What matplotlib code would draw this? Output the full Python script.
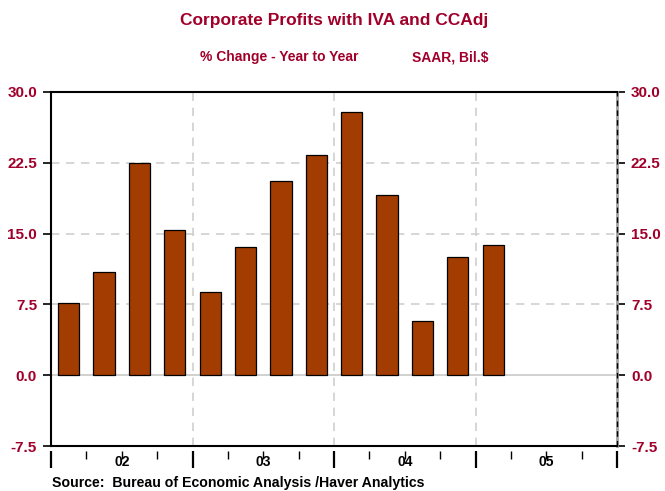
import matplotlib
matplotlib.use("Agg")
import matplotlib.pyplot as plt
from matplotlib.ticker import FixedLocator, NullFormatter

plt.rcParams['font.family'] = ['Liberation Sans', 'DejaVu Sans']

quarters = ['02Q1', '02Q2', '02Q3', '02Q4', '03Q1', '03Q2', '03Q3', '03Q4',
            '04Q1', '04Q2', '04Q3', '04Q4', '05Q1']
values = [7.7, 10.9, 22.5, 15.4, 8.8, 13.6, 20.6, 23.3, 27.9, 19.1, 5.7, 12.5, 13.8]
year_labels = ['02', '03', '04', '05']
yticks = [-7.5, 0.0, 7.5, 15.0, 22.5, 30.0]

red = '#A0002A'
bar_color = '#A33C00'

W, H = 665, 491
L, R, T, B = 51, 617, 92, 446
fig = plt.figure(figsize=(W/100, H/100), dpi=100)
ax = fig.add_axes([L/W, 1-B/H, (R-L)/W, (B-T)/H])
axh = B - T

x = list(range(len(values)))
ax.bar(x, values, width=0.6, color=bar_color, edgecolor='black', linewidth=0.9, zorder=3)

ax.set_xlim(-0.5, 15.5)
ax.set_ylim(-7.5, 30.0)

# grid
for yv in [7.5, 15.0, 22.5]:
    ax.axhline(yv, color='#D0D0D0', linestyle=(0, (5, 4)), linewidth=1.2, zorder=1)
ax.axhline(0, color='#C8C8C8', linewidth=1.2, zorder=1)
for xv in [3.5, 7.5, 11.5]:
    ax.axvline(xv, color='#D0D0D0', linestyle=(0, (5, 4)), linewidth=1.2, zorder=1)

# spines
for s in ['left', 'top', 'bottom']:
    ax.spines[s].set_color('black')
    ax.spines[s].set_linewidth(1.5)
ax.spines['right'].set_color('#A0A0A0')
ax.spines['right'].set_linewidth(2.0)
ax.axvline(15.5, color='black', linestyle=(0, (4, 3)), linewidth=1.0, zorder=4, clip_on=False)

# y ticks
ax.set_yticks(yticks)
ax.set_yticklabels([f'{v:.1f}' for v in yticks])
ax.tick_params(axis='y', which='both', left=True, right=True, labelleft=True, labelright=True,
               direction='out', length=6, width=1.2, colors='black', pad=4)
for t in ax.yaxis.get_major_ticks():
    for lab in (t.label1, t.label2):
        lab.set_color(red)
        lab.set_fontweight('bold')
        lab.set_fontsize(11)

# primary x ticks hidden
ax.tick_params(axis='x', which='both', bottom=False, labelbottom=False)

# detached x ticks via secondary axis slightly below the frame
sec = ax.secondary_xaxis(-5/axh)
sec.spines['bottom'].set_visible(False)
sec.xaxis.set_major_locator(FixedLocator([-0.5, 3.5, 7.5, 11.5, 15.5]))
sec.xaxis.set_major_formatter(NullFormatter())
sec.xaxis.set_minor_locator(FixedLocator([0.5, 1.5, 2.5, 4.5, 5.5, 6.5, 8.5, 9.5, 10.5, 12.5, 13.5, 14.5]))
sec.xaxis.set_minor_formatter(NullFormatter())
sec.tick_params(axis='x', which='major', direction='out', length=12, width=1.6, colors='black')
sec.tick_params(axis='x', which='minor', direction='out', length=6, width=1.0, colors='black')

for i, yl in enumerate(year_labels):
    ax.text(1.5 + 4*i, -15.5/axh, yl, transform=ax.get_xaxis_transform(), ha='center', va='center',
            fontsize=10, fontweight='bold', color='black')

fig.text(334/W, 1-21/H, 'Corporate Profits with IVA and CCAdj', ha='center', va='center',
         fontsize=12.5, fontweight='bold', color=red)
fig.text(200/W, 1-57/H, '% Change - Year to Year', ha='left', va='center',
         fontsize=10, fontweight='bold', color=red)
fig.text(489/W, 1-57/H, 'SAAR, Bil.$', ha='right', va='center',
         fontsize=10, fontweight='bold', color=red)
fig.text(52/W, 1-483/H, 'Source:  Bureau of Economic Analysis /Haver Analytics', ha='left',
         va='center', fontsize=10.2, fontweight='bold', color='black')

fig.savefig('out.png', dpi=100)
